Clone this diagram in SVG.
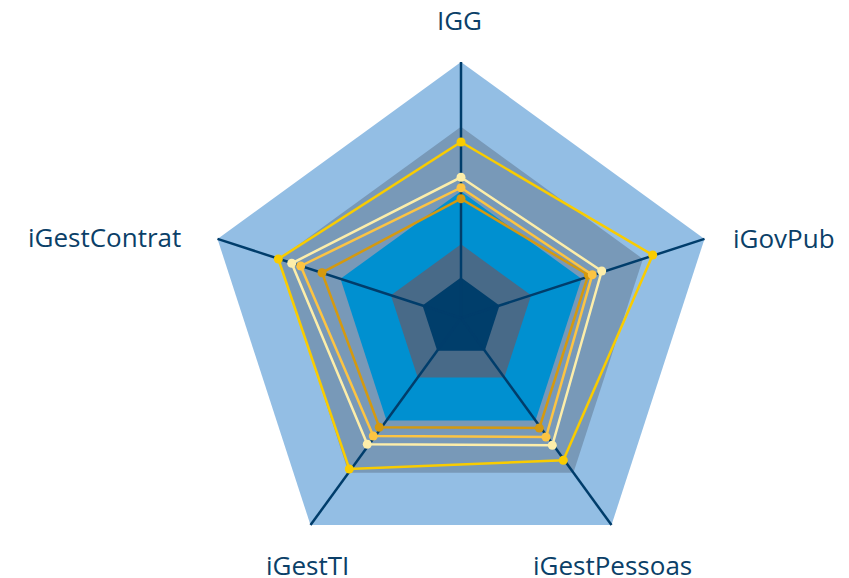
<svg xmlns="http://www.w3.org/2000/svg" width="849" height="578" viewBox="0 0 849 578">
<style>
.lbl{font-family:"Open Sans","Noto Sans",sans-serif;font-size:26px;fill:#0b3f68}
.axis{stroke:#003d6b;stroke-width:2.5;fill:none}
.s{fill:none;stroke-width:2.5;stroke-linejoin:miter}
</style>
<rect width="849" height="578" fill="#ffffff"/>
<g id="bands">
<polygon points="461,62 704.5,238.9 611.5,525.1 310.5,525.1 217.5,238.9" fill="#93bee4"/>
<polygon points="461,126.8 642.9,258.9 573.4,472.7 348.6,472.7 279.1,258.9" fill="#7899b8"/>
<polygon points="461,191.3 581.5,278.8 535.5,420.5 386.5,420.5 340.5,278.8" fill="#0090d0"/>
<polygon points="461,244.3 531.1,295.2 504.3,377.6 417.7,377.6 390.9,295.2" fill="#486a88"/>
<polygon points="461,277.6 499.5,305.5 484.8,350.7 437.2,350.7 422.5,305.5" fill="#003e6b"/>
</g>
<g id="connectors">
<line class="axis" x1="461" y1="318" x2="461" y2="62"/>
<line class="axis" x1="461" y1="318" x2="704.5" y2="238.9"/>
<line class="axis" x1="461" y1="318" x2="611.5" y2="525.1"/>
<line class="axis" x1="461" y1="318" x2="310.5" y2="525.1"/>
<line class="axis" x1="461" y1="318" x2="217.5" y2="238.9"/>
</g>
<g id="series-dark" fill="#d4990f">
<polygon class="s" stroke="#d4990f" points="461,198.7 588.3,275 539.3,428 379.3,427.3 322,272.7"/>
<circle cx="461" cy="198.7" r="4.5"/><circle cx="588.3" cy="275" r="4.5"/><circle cx="539.3" cy="428" r="4.5"/><circle cx="379.3" cy="427.3" r="4.5"/><circle cx="322" cy="272.7" r="4.5"/>
</g>
<g id="series-orange" fill="#fcc443">
<polygon class="s" stroke="#fcc443" points="461,187.7 592.3,274.7 546,437 373.3,436 300.7,266"/>
<circle cx="461" cy="187.7" r="4.5"/><circle cx="592.3" cy="274.7" r="4.5"/><circle cx="546" cy="437" r="4.5"/><circle cx="373.3" cy="436" r="4.5"/><circle cx="300.7" cy="266" r="4.5"/>
</g>
<g id="series-pale" fill="#fdeeaa">
<polygon class="s" stroke="#fdeeaa" points="461,177.3 601.7,271 552.3,445.3 367.3,444.3 291.7,263.3"/>
<circle cx="461" cy="177.3" r="4.5"/><circle cx="601.7" cy="271" r="4.5"/><circle cx="552.3" cy="445.3" r="4.5"/><circle cx="367.3" cy="444.3" r="4.5"/><circle cx="291.7" cy="263.3" r="4.5"/>
</g>
<g id="series-yellow" fill="#f9cc00">
<polygon class="s" stroke="#f9cc00" points="461,142 652.7,255 563.3,460.3 349.3,469 278.3,259"/>
<circle cx="461" cy="142" r="4.5"/><circle cx="652.7" cy="255" r="4.5"/><circle cx="563.3" cy="460.3" r="4.5"/><circle cx="349.3" cy="469" r="4.5"/><circle cx="278.3" cy="259" r="4.5"/>
</g>
<g id="label-IGG"><text class="lbl" x="459.5" y="30" text-anchor="middle">IGG</text></g>
<g id="label-iGovPub"><text class="lbl" x="733" y="248">iGovPub</text></g>
<g id="label-iGestPessoas"><text class="lbl" x="533" y="575">iGestPessoas</text></g>
<g id="label-iGestTI"><text class="lbl" x="266" y="575">iGestTI</text></g>
<g id="label-iGestContrat"><text class="lbl" x="28" y="247">iGestContrat</text></g>
</svg>
